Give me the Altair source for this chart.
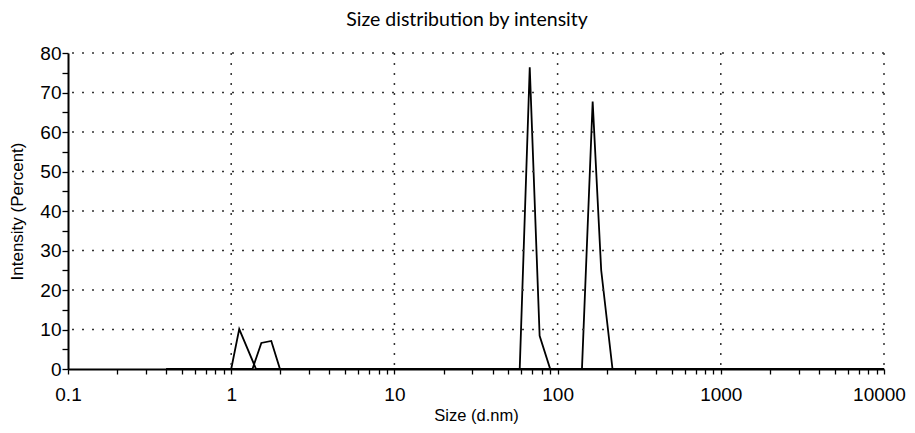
import altair as alt
import pandas as pd

# Series (size in d.nm, intensity in %)
run_a_size = [0.4, 1.0, 1.12, 1.42, 58.6, 67.5, 77.6, 90.1, 10000]
run_a_int = [0, 0, 10.1, 0, 0, 76.4, 8.4, 0, 0]
run_b_size = [0.4, 1.35, 1.53, 1.76, 1.99, 141, 164, 185, 217, 10000]
run_b_int = [0, 0, 6.6, 7.1, 0, 0, 67.7, 25, 0, 0]

x_decades = [1, 10, 100, 1000, 10000]
y_grid = [10, 20, 30, 40, 50, 60, 70, 80]
x_tick_values = [float(f"{m}e{e}") for e in range(-1, 4) for m in range(1, 10)] + [10000.0]
y_tick_values = list(range(0, 85, 5))

df = pd.DataFrame({
    "size": run_a_size + run_b_size,
    "intensity": run_a_int + run_b_int,
    "run": ["A"] * len(run_a_size) + ["B"] * len(run_b_size),
})
df["order"] = range(len(df))

FONT = "Liberation Sans"
xscale = alt.Scale(type="log", domain=[0.1, 10000], nice=False)
yscale = alt.Scale(domain=[0, 80], nice=False)

x_axis = alt.Axis(
    values=x_tick_values,
    format="~g",
    labelExpr="indexof([0.1,1,10,100,1000,10000], datum.value) >= 0 ? datum.label : ''",
    grid=False, labelFlush=False, labelOverlap=False,
    labelOffset={"condition": {"test": "datum.value >= 10000", "value": -5}, "value": 0},
    tickSize=5, tickWidth=1.3, tickColor="black",
    domainColor="black", domainWidth=2,
    labelFont=FONT, labelFontSize=19, labelColor="black", labelPadding=11,
    titleFont=FONT, titleFontSize=16.5, titleColor="black", titleFontWeight="normal",
    titlePadding=3,
)
y_axis = alt.Axis(
    values=y_tick_values,
    labelExpr="datum.value % 10 === 0 ? datum.label : ''",
    grid=False,
    tickSize=6, tickWidth=1.3, tickColor="black",
    domainColor="black", domainWidth=2,
    labelFont=FONT, labelFontSize=19, labelColor="black", labelPadding=1,
    titleFont=FONT, titleFontSize=17, titleColor="black", titleFontWeight="normal",
    titlePadding=13,
)

X = alt.X("size:Q", scale=xscale, axis=x_axis, title="Size (d.nm)")
Y = alt.Y("intensity:Q", scale=yscale, axis=y_axis, title="Intensity (Percent)")

vgrid = alt.Chart(pd.DataFrame({"size": x_decades})).mark_rule(
    color="#333", strokeWidth=1.5, strokeDash=[2, 8]
).encode(x=X)
hgrid = alt.Chart(pd.DataFrame({"intensity": y_grid})).mark_rule(
    color="#333", strokeWidth=1.5, strokeDash=[2, 8]
).encode(y=Y)

lines = alt.Chart(df).mark_line(color="black", strokeWidth=1.8).encode(
    x=X, y=Y, detail="run:N", order="order:Q"
)

chart = alt.layer(lines, vgrid, hgrid).properties(
    width=816, height=316,
    title=alt.TitleParams("Size distribution by intensity", font="Lato", fontSize=19.5,
                          fontWeight="normal", color="black", dx=-9, offset=14),
    autosize=alt.AutoSizeParams(type="none"),
    padding={"left": 60, "top": 45, "right": 23, "bottom": 56},
).configure_view(stroke=None)

chart.save("out.html", embed_options={"renderer": "svg", "actions": False})
